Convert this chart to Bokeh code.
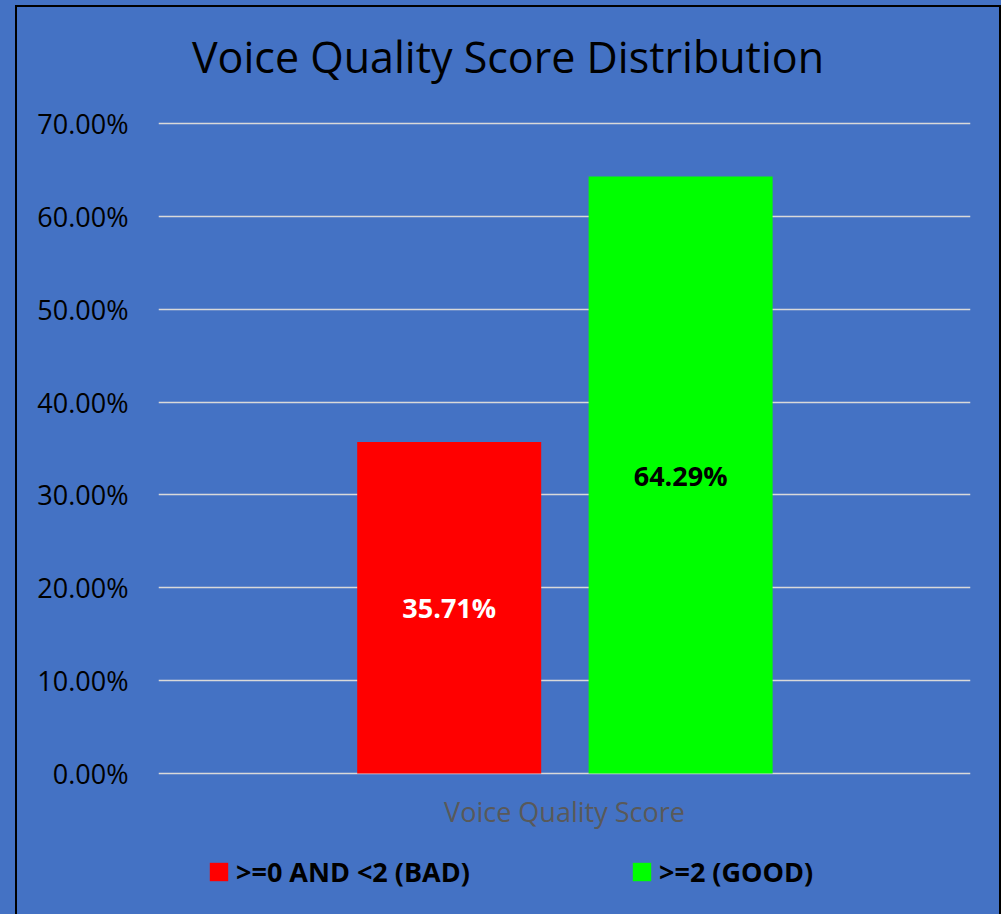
from bokeh.plotting import figure
from bokeh.models import (ColumnDataSource, FactorRange, Range1d, FixedTicker,
                          PrintfTickFormatter, Legend, LegendItem, GlobalInlineStyleSheet)
from bokeh.transform import dodge
from bokeh.core.properties import value
from bokeh.embed import file_html
from bokeh.resources import INLINE

# ---- data ----
title_text = "Voice Quality Score Distribution"
categories = ["Voice Quality Score"]
series_names = [">=0 AND <2 (BAD)", ">=2 (GOOD)"]
series_values = [35.71, 64.29]          # percent
series_colors = ["#FF0000", "#00FF00"]
label_colors = ["#FFFFFF", "#000000"]
y_ticks = [0, 10, 20, 30, 40, 50, 60, 70]

BG = "#4472C4"
FONT = "Open Sans"

# the frame spans the whole canvas height: title above, category label and legend below
p = figure(x_range=FactorRange(factors=categories, range_padding=0),
           y_range=Range1d(-15.40, 82.49),
           width=986, height=909,
           output_backend="svg", toolbar_location=None,
           min_border_left=141, min_border_right=33,
           min_border_top=0, min_border_bottom=0)

p.stylesheets = [GlobalInlineStyleSheet(css="body { background-color: #4472C4; }")]
p.styles = {"margin-left": "15px", "margin-top": "5px",
            "border-left": "2px solid black", "border-top": "2px solid black",
            "border-right": "2px solid black"}

p.background_fill_color = BG
p.border_fill_color = BG
p.outline_line_color = None
p.title.visible = False

# title (drawn as text at the top of the chart area)
t_src = ColumnDataSource(dict(cat=categories[:1], y=[77.2], t=[title_text]))
p.text(x=dodge("cat", -0.0696, range=p.x_range), y="y", text="t", source=t_src,
       text_align="center", text_baseline="alphabetic",
       text_font=value(FONT), text_font_size="43px", text_color="#000000")

# bars
offsets = [-0.142, 0.143]
bar_width = 0.2266
items = []
for name, val, col, lcol, off in zip(series_names, series_values, series_colors, label_colors, offsets):
    src = ColumnDataSource(dict(cat=categories, v=[val], mid=[val / 2.0],
                                lab=["%.2f%%" % val]))
    r = p.vbar(x=dodge("cat", off, range=p.x_range), top="v", bottom=0, width=bar_width,
               source=src, fill_color=col, line_color=None)
    p.text(x=dodge("cat", off, range=p.x_range), y="mid", text="lab", source=src,
           text_align="center", text_baseline="middle",
           text_font=value(FONT), text_font_size="27px", text_font_style="bold",
           text_color=lcol)
    items.append(LegendItem(label=name, renderers=[r]))

# category label (horizontal axis label)
cat_src = ColumnDataSource(dict(cat=categories, y=[-4.1] * len(categories)))
p.text(x="cat", y="y", text="cat", source=cat_src, text_align="center",
       text_baseline="middle", text_font=value(FONT), text_font_size="27px",
       text_color="#595959")

# axes
p.yaxis.ticker = FixedTicker(ticks=y_ticks)
p.yaxis.formatter = PrintfTickFormatter(format="%.2f%%")
p.yaxis.axis_line_color = None
p.yaxis.major_tick_line_color = None
p.yaxis.minor_tick_line_color = None
p.yaxis.major_label_standoff = 24
p.yaxis.major_label_text_font = FONT
p.yaxis.major_label_text_font_size = "27px"
p.yaxis.major_label_text_color = "#000000"

p.xaxis.visible = False

p.xgrid.grid_line_color = None
p.ygrid.ticker = FixedTicker(ticks=y_ticks)
p.ygrid.grid_line_color = "#D9D9D9"
p.ygrid.grid_line_width = 1.5

legend = Legend(items=items, location=(49, 26), orientation="horizontal",
                glyph_width=23, glyph_height=23, label_standoff=6,
                label_width=240, spacing=154,
                padding=0, margin=0, background_fill_alpha=0, border_line_alpha=0,
                label_text_font=FONT, label_text_font_size="27px",
                label_text_font_style="bold", label_text_color="#000000")
p.add_layout(legend, "center")

open("out.html", "w").write(file_html(p, INLINE))
